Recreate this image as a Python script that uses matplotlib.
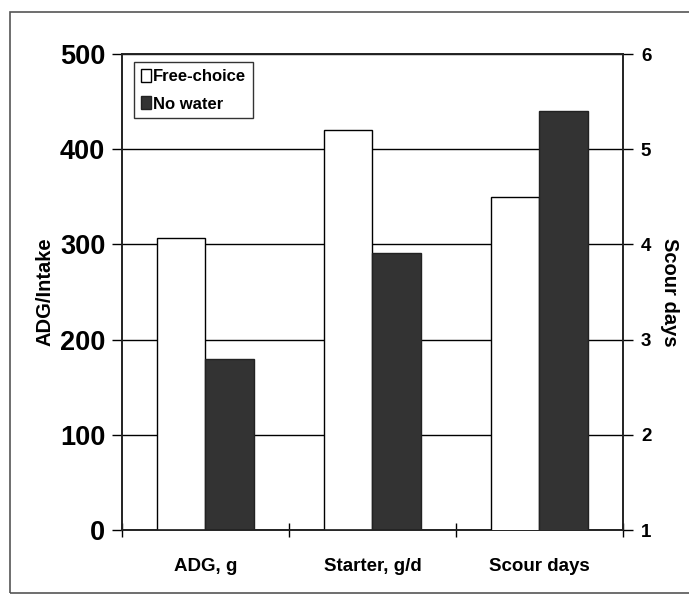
import numpy as np
import matplotlib.pyplot as plt
from matplotlib.patches import Rectangle

plt.rcParams['font.family'] = ['Liberation Sans', 'DejaVu Sans']
plt.rcParams['font.weight'] = 'bold'

# Calf performance: free-choice water vs no water
categories = ['ADG, g', 'Starter, g/d', 'Scour days']
free_choice = [307, 420]        # ADG, starter (left axis)
no_water = [180, 291]
scour_free = 4.5                # scour days (right axis)
scour_none = 5.4

fig = plt.figure(figsize=(6.89, 5.97), dpi=100)
ax = fig.add_axes([0.177, 0.112, 0.727, 0.7975])
ax2 = ax.twinx()

# outer border around the whole chart
fig.patches.append(Rectangle((10 / 689, 1 - 593 / 597), 1.0, 581 / 597,
                             transform=fig.transFigure, fill=False,
                             edgecolor='#555555', linewidth=1.2))

x = np.arange(len(categories))
w = 0.29
white_kw = dict(color='white', edgecolor='black', linewidth=1.0, zorder=3)
dark_kw = dict(color='#333333', edgecolor='#222222', linewidth=1.0, zorder=3)

ax.bar(x[:2] - w / 2, free_choice, w, label='Free-choice', **white_kw)
ax.bar(x[:2] + w / 2, no_water, w, label='No water', **dark_kw)
ax2.bar(x[2] - w / 2, scour_free, w, bottom=0, **white_kw)
ax2.bar(x[2] + w / 2, scour_none, w, bottom=0, **dark_kw)

ax.set_xlim(-0.5, 2.5)
ax.set_ylim(0, 500)
ax2.set_ylim(1, 6)

ax.set_yticks(np.arange(0, 501, 100))
ax2.set_yticks(np.arange(1, 7, 1))
ax.yaxis.grid(True, color='black', linewidth=1.0, zorder=0)
ax.set_axisbelow(True)

ax.set_xticks(x)
ax.set_xticklabels(categories, fontsize=13.5, fontweight='bold')
ax.tick_params(axis='x', which='major', length=0, pad=20)
ax.set_xticks(np.arange(-0.5, 2.6, 1.0), minor=True)
ax.tick_params(axis='x', which='minor', direction='inout', length=10, width=1)

ax.tick_params(axis='y', direction='out', length=7, width=1, labelsize=19.5, pad=5)
ax2.tick_params(axis='y', direction='out', length=7, width=1, labelsize=13.5, pad=6)
for lab in ax.get_yticklabels() + ax2.get_yticklabels():
    lab.set_fontweight('bold')

ax.set_ylabel('ADG/Intake', fontsize=14.5, fontweight='bold', labelpad=4)
ax2.set_ylabel('Scour days', fontsize=14.5, fontweight='bold', rotation=270, labelpad=20)

for a in (ax, ax2):
    for s in a.spines.values():
        s.set_linewidth(1.2)
        s.set_color('#222222')

leg = ax.legend(loc='upper left', bbox_to_anchor=(0.024, 0.983),
                prop={'weight': 'bold', 'size': 12}, frameon=True, fancybox=False,
                edgecolor='black', handlelength=0.6, handleheight=0.8,
                handletextpad=0.15, borderpad=0.4, borderaxespad=0,
                labelspacing=0.75)
leg.get_frame().set_linewidth(1.0)
leg.set_zorder(10)

fig.savefig('out.png', dpi=100)
